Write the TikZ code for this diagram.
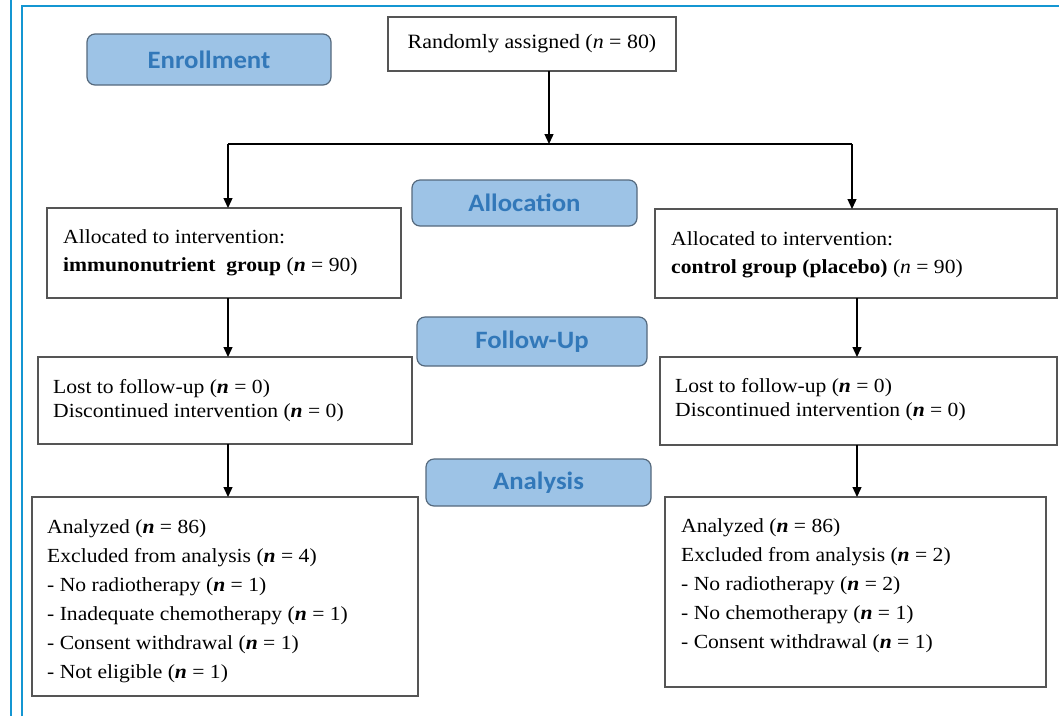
\documentclass[tikz,border=0pt]{standalone}
\usepackage{fontspec}
\setmainfont{Liberation Serif}[FakeStretch=1.08]
\newfontfamily\labfont{Carlito}[FakeStretch=1.07]
\usetikzlibrary{arrows.meta}
\definecolor{frameblue}{RGB}{20,150,210}
\definecolor{labfill}{RGB}{157,195,230}
\definecolor{labtext}{RGB}{50,120,185}
\definecolor{labdraw}{RGB}{85,105,125}
\definecolor{boxdraw}{RGB}{85,85,85}
\tikzset{
  box/.style={draw=boxdraw, line width=1.2pt, fill=white, inner sep=0pt, outer sep=0pt, anchor=north west},
  stage/.style={draw=labdraw, line width=1.2pt, fill=labfill, rounded corners=8pt, inner sep=0pt, outer sep=0pt, anchor=north west, text=labtext, font=\labfont\bfseries\fontsize{25}{30}\selectfont},
  txt/.style={anchor=base west, align=left, inner sep=0pt, font=\fontsize{20}{29}\selectfont},
  arr/.style={line width=1.3pt, -{Triangle[length=10pt,width=9pt]}},
  conn/.style={line width=1.3pt}
}
\begin{document}
\begin{tikzpicture}[x=1pt,y=-1pt]
\useasboundingbox (0,0) rectangle (1059,716);
% frame
\draw[frameblue, line width=2.4pt] (11,0) -- (11,716);
\draw[frameblue, line width=2.4pt] (22,716) -- (22,6) -- (1059,6);
% stage labels
\node[stage, minimum width=244pt, minimum height=51pt] (enr) at (87,34) {Enrollment};
\node[stage, minimum width=225pt, minimum height=46pt] (alo) at (412,180) {Allocation};
\node[stage, minimum width=230pt, minimum height=49pt] (fol) at (417,317) {Follow-Up};
\node[stage, minimum width=225pt, minimum height=47pt] (ana) at (426,459) {Analysis};
% boxes
\node[box, minimum width=288pt, minimum height=54pt, font=\fontsize{20.3}{25}\selectfont] (rand) at (388,17) {Randomly assigned (\textit{n} = 80)};
\node[box, minimum width=354pt, minimum height=90pt] (L1) at (47,208) {};
\node[box, minimum width=402pt, minimum height=89pt] (R1) at (655,209) {};
\node[box, minimum width=374pt, minimum height=87pt] (L2) at (38,357) {};
\node[box, minimum width=397pt, minimum height=88pt] (R2) at (660,357) {};
\node[box, minimum width=386pt, minimum height=199pt] (L3) at (32,497) {};
\node[box, minimum width=381pt, minimum height=190pt] (R3) at (665,497) {};
% texts (anchor at baseline of last line)
\node[txt, font=\fontsize{20}{28}\selectfont] (tL1) at (63,271) {Allocated to intervention:\\\textbf{immunonutrient\ \ group} (\textbf{\textit{n}} = 90)};
\node[txt, font=\fontsize{20}{28}\selectfont] (tR1) at (671,273) {Allocated to intervention:\\\textbf{control group (placebo)} (\textit{n} = 90)};
\node[txt, font=\fontsize{20}{24.5}\selectfont] (tL2) at (53,417.5) {Lost to follow-up (\textbf{\textit{n}} = 0)\\Discontinued intervention (\textbf{\textit{n}} = 0)};
\node[txt, font=\fontsize{20}{24.5}\selectfont] (tR2) at (675,416.5) {Lost to follow-up (\textbf{\textit{n}} = 0)\\Discontinued intervention (\textbf{\textit{n}} = 0)};
\node[txt] (tL3) at (47,678) {Analyzed (\textbf{\textit{n}} = 86)\\Excluded from analysis (\textbf{\textit{n}} = 4)\\- No radiotherapy (\textbf{\textit{n}} = 1)\\- Inadequate chemotherapy (\textbf{\textit{n}} = 1)\\- Consent withdrawal (\textbf{\textit{n}} = 1)\\- Not eligible (\textbf{\textit{n}} = 1)};
\node[txt] (tR3) at (681,648) {Analyzed (\textbf{\textit{n}} = 86)\\Excluded from analysis (\textbf{\textit{n}} = 2)\\- No radiotherapy (\textbf{\textit{n}} = 2)\\- No chemotherapy (\textbf{\textit{n}} = 1)\\- Consent withdrawal (\textbf{\textit{n}} = 1)};
% connectors
\coordinate (split) at (549,144);
\coordinate (cL) at (228,144);
\coordinate (cR) at (852,144);
\coordinate (xL) at (228,0);
\coordinate (xR) at (857,0);
\draw[arr] (rand.south -| split) -- (split);
\draw[conn] (cL) -- (cR);
\draw[arr] (cL) -- (cL |- L1.north);
\draw[arr] (cR) -- (cR |- R1.north);
\draw[arr] (xL |- L1.south) -- (xL |- L2.north);
\draw[arr] (xL |- L2.south) -- (xL |- L3.north);
\draw[arr] (xR |- R1.south) -- (xR |- R2.north);
\draw[arr] (xR |- R2.south) -- (xR |- R3.north);
\end{tikzpicture}
\end{document}
